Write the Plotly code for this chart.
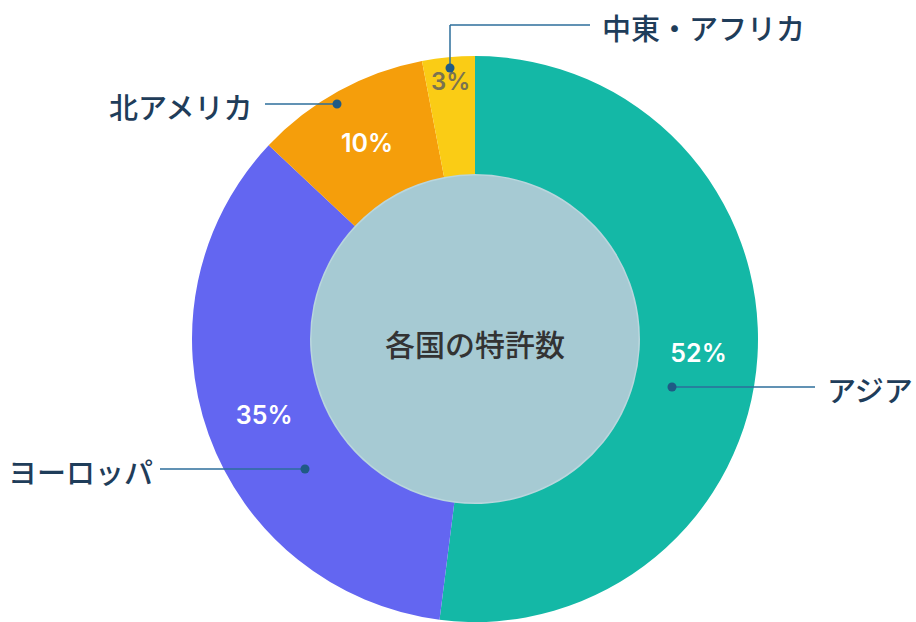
import plotly.graph_objects as go

regions = ["アジア", "ヨーロッパ", "北アメリカ", "中東・アフリカ"]
shares = [52, 35, 10, 3]
colors = ["#14b8a6", "#6366f1", "#f59e0b", "#facc15"]
text_colors = ["white", "white", "white", "#7a7350"]
center_title = "各国の特許数"

W, H = 916, 622
cx, cy, R, r_in = 475, 339, 283, 165
FONT = "Noto Sans CJK JP"

fig = go.Figure()
fig.add_trace(go.Pie(
    labels=regions, values=shares, sort=False, direction="clockwise",
    marker=dict(colors=colors, line=dict(width=0)),
    hole=r_in / R, textinfo="percent", textposition="inside",
    insidetextorientation="horizontal",
    texttemplate="%{percent:.0%}",
    textfont=dict(size=25, color=text_colors, family="Inter", weight=600),
    domain=dict(x=[(cx - R) / W, (cx + R) / W], y=[(H - cy - R) / H, (H - cy + R) / H]),
    showlegend=False,
))
# empty trace so the pixel axes exist
fig.add_trace(go.Scatter(x=[None], y=[None], showlegend=False, hoverinfo="skip"))

# overlay pixel axes for centre disc and callouts
fig.update_layout(
    xaxis=dict(range=[0, W], visible=False, fixedrange=True),
    yaxis=dict(range=[H, 0], visible=False, fixedrange=True),
)
fig.add_shape(type="circle", x0=cx - r_in, x1=cx + r_in, y0=cy - r_in, y1=cy + r_in,
              fillcolor="#a6cad3", line=dict(color="#b9d6dd", width=3), layer="below")
fig.add_annotation(x=cx, y=cy + 4, text=center_title, showarrow=False,
                   font=dict(size=30, color="#333333", family=FONT, weight=500))

# callout placement: (dot, path points, label x, anchor)
callouts = [
    ((672, 387), [(815, 387)], 825, "left"),
    ((305, 469), [(160, 469)], 155, "right"),
    ((337, 104), [(265, 104)], 255, "right"),
    ((450, 68), [(450, 25), (590, 25)], 600, "left"),
]
for name, (dot, path, lx, anc) in zip(regions, callouts):
    pts = [dot] + path
    for (x0, y0), (x1, y1) in zip(pts[:-1], pts[1:]):
        fig.add_shape(type="line", x0=x0, y0=y0, x1=x1, y1=y1,
                      line=dict(color="#2c6e9b", width=1.5), layer="above")
    fig.add_shape(type="circle", x0=dot[0] - 4.5, x1=dot[0] + 4.5, y0=dot[1] - 4.5, y1=dot[1] + 4.5,
                  fillcolor="#1f5a85", line=dict(width=0), layer="above")
    fig.add_annotation(x=lx, y=pts[-1][1] + 2, text=name, showarrow=False, xanchor=anc,
                       font=dict(size=29, color="#1f3d5a", family=FONT, weight=500))

fig.update_layout(width=W, height=H, margin=dict(l=0, r=0, t=0, b=0),
                  paper_bgcolor="white", plot_bgcolor="rgba(0,0,0,0)")
fig.write_html("out.html", post_script="document.body.style.margin='0';",
               config={"displayModeBar": False})
